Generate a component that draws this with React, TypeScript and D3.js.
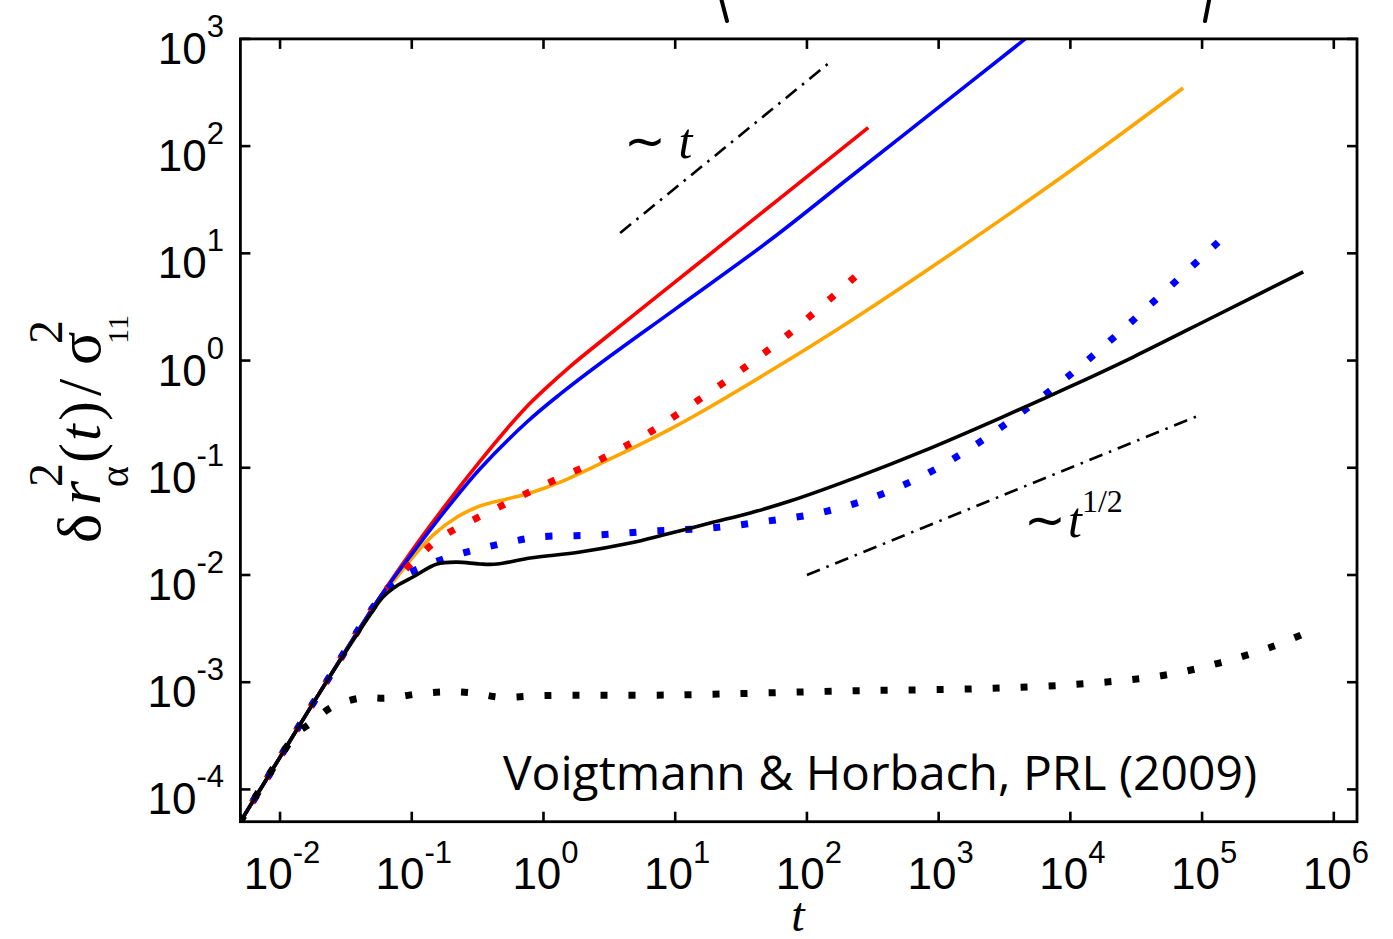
import React from "react";
import * as d3 from "d3";

// ---------- data (t, msd) ----------
const redSolidT = [0.005, 0.01, 0.02, 0.0574, 0.102, 0.185, 0.33, 0.557, 0.724, 1.0, 1.59, 2.69, 10, 23.1, 213, 292];
const redSolidY = [5e-5, 2e-4, 8e-4, 6.22e-3, 0.01738, 0.0466, 0.1153, 0.2495, 0.358, 0.527, 0.879, 1.49, 5.41, 12.3, 109, 149];

const blueSolidT = [0.005, 0.01, 0.02, 0.0574, 0.102, 0.185, 0.33, 0.752, 1.337, 2.69, 10, 52.6, 213, 1009, 4540];
const blueSolidY = [5e-5, 2e-4, 8e-4, 6.22e-3, 0.01618, 0.0418, 0.098, 0.2685, 0.486, 0.938, 3.02, 13.3, 51.5, 232, 1000];

const orangeT = [0.005, 0.01, 0.02, 0.0574, 0.077, 0.102, 0.145, 0.221, 0.33, 0.53, 0.79, 1.34, 2.38, 4.79, 9.16, 13.7, 52.6, 213, 1009, 9977, 71800];
const orangeY = [5e-5, 2e-4, 8e-4, 6.1e-3, 9.57e-3, 0.0147, 0.0235, 0.0347, 0.044, 0.0512, 0.0582, 0.0736, 0.1016, 0.153, 0.2296, 0.3006, 0.798, 2.33, 8.3, 58.6, 348];

const redDotT = [0.005, 0.01, 0.02, 0.0574, 0.0787, 0.1117, 0.164, 0.254, 0.4, 0.631, 0.975, 1.54, 2.47, 3.82, 5.92, 9.16, 26.1, 74.5, 232];
const redDotY = [5e-5, 2e-4, 8e-4, 6.15e-3, 9.57e-3, 0.01469, 0.0221, 0.0299, 0.0395, 0.0522, 0.0676, 0.0875, 0.113, 0.15, 0.2018, 0.2846, 0.687, 1.81, 6.03];

const blueDotT = [0.005, 0.01, 0.02, 0.0574, 0.0815, 0.1306, 0.213, 0.342, 0.557, 0.91, 2.55, 6.79, 18.4, 49.9, 133, 348, 861, 1995, 4385, 9462, 21100, 44100, 132400];
const blueDotY = [5e-5, 2e-4, 8e-4, 6.1e-3, 9.35e-3, 0.01236, 0.0153, 0.0178, 0.0203, 0.0226, 0.0236, 0.0257, 0.0274, 0.0318, 0.0386, 0.0551, 0.0912, 0.17, 0.337, 0.7, 1.62, 3.66, 12.7];

const blackSolidT = [0.005, 0.01, 0.02, 0.0482, 0.0605, 0.0787, 0.102, 0.1556, 0.221, 0.33, 0.445, 0.791, 1.897, 4.55, 8.09, 18.4, 37.1, 74.5, 240, 762, 2931, 9462, 29990, 130300, 586000];
const blackSolidY = [5e-5, 2e-4, 8e-4, 4.23e-3, 6.22e-3, 8.05e-3, 9.57e-3, 0.01265, 0.01318, 0.01265, 0.01265, 0.01439, 0.01637, 0.01986, 0.02355, 0.0305, 0.0379, 0.0489, 0.0818, 0.143, 0.291, 0.555, 1.079, 2.66, 6.7];

const blackDotT = [0.005, 0.01, 0.0135, 0.0163, 0.0248, 0.0405, 0.0649, 0.1096, 0.179, 0.292, 0.47, 1, 10, 200, 2000, 11070, 49000, 134900, 339000, 562000];
const blackDotY = [5e-5, 2e-4, 3.39e-4, 3.98e-4, 5.86e-4, 7.11e-4, 7.11e-4, 7.76e-4, 8.13e-4, 7.94e-4, 7.24e-4, 7.5e-4, 7.6e-4, 8.3e-4, 8.7e-4, 9.55e-4, 1.15e-3, 1.51e-3, 2.14e-3, 2.75e-3];

// power-law guide lines
const guideLinearT = [3.82, 145];
const guideLinearY = [15.5, 588];
const guideSqrtT = [100, 100000];
const guideSqrtY = [0.01, 0.316];

const xTickExps = [-2, -1, 0, 1, 2, 3, 4, 5, 6];
const yTickExps = [-4, -3, -2, -1, 0, 1, 2, 3];

const series = [
  { t: orangeT, y: orangeY, color: "#FFA500", dotted: false },
  { t: redSolidT, y: redSolidY, color: "#FF0000", dotted: false },
  { t: blueSolidT, y: blueSolidY, color: "#0000FF", dotted: false },
  { t: redDotT, y: redDotY, color: "#FF0000", dotted: true },
  { t: blueDotT, y: blueDotY, color: "#0000FF", dotted: true },
  { t: blackSolidT, y: blackSolidY, color: "#000000", dotted: false },
  { t: blackDotT, y: blackDotY, color: "#000000", dotted: true },
];

const L = 240.4, R = 1357, T = 38.9, B = 821.7;

export default function App() {
  const x = d3.scaleLog().domain([0.005, 1.5e6]).range([L, R]);
  const y = d3.scaleLog().domain([5e-5, 1000]).range([B, T]);
  const line = d3
    .line<[number, number]>()
    .x((d) => x(d[0]))
    .y((d) => y(d[1]))
    .curve(d3.curveCatmullRom.alpha(0.5));
  const straight = d3
    .line<[number, number]>()
    .x((d) => x(d[0]))
    .y((d) => y(d[1]));
  const pts = (ts: number[], ys: number[]) => ts.map((t, i) => [t, ys[i]] as [number, number]);

  const sans = "'Liberation Sans', Arial, Helvetica, sans-serif";
  const serif = "'Liberation Serif', 'Times New Roman', serif";

  return (
    <svg width={1393} height={939} style={{ display: "block", position: "absolute", left: 0, top: 0 }}>
      <rect width={1393} height={939} fill="#fff" />
      <defs>
        <clipPath id="plot">
          <rect x={L} y={T} width={R - L} height={B - T} />
        </clipPath>
      </defs>

      {/* decorative bracket ends at top */}
      <line x1={721} y1={-2} x2={727} y2={21} stroke="#000" strokeWidth={4} strokeLinecap="round" />
      <line x1={1209.5} y1={-2} x2={1205} y2={21} stroke="#000" strokeWidth={4} strokeLinecap="round" />

      <g clipPath="url(#plot)">
        {series.map((s, i) => {
          const p = pts(s.t, s.y);
          const d = line(s.dotted ? p.slice().reverse() : p) || "";
          return (
            <path
              key={i}
              d={d}
              fill="none"
              stroke={s.color}
              strokeWidth={s.dotted ? 7 : 3.6}
              strokeDasharray={s.dotted ? "7 21" : undefined}
              strokeLinecap="butt"
              strokeLinejoin="round"
            />
          );
        })}
        <path d={straight(pts(guideLinearT, guideLinearY)) || ""} fill="none" stroke="#000" strokeWidth={2.6} strokeDasharray="14 7 2.5 7" />
        <path d={straight(pts(guideSqrtT, guideSqrtY)) || ""} fill="none" stroke="#000" strokeWidth={2.6} strokeDasharray="14 7 2.5 7" />
      </g>

      {/* frame */}
      <rect x={L} y={T} width={R - L} height={B - T} fill="none" stroke="#000" strokeWidth={2.8} />

      {/* x ticks */}
      {xTickExps.map((e) => {
        const px = x(Math.pow(10, e));
        return (
          <g key={"xt" + e}>
            <line x1={px} x2={px} y1={B} y2={B - 10} stroke="#000" strokeWidth={2.6} />
            <line x1={px} x2={px} y1={T} y2={T + 10} stroke="#000" strokeWidth={2.6} />
            <text x={px + 2} y={889} textAnchor="middle" fontFamily={sans} fontSize={44} fill="#000">
              <tspan>10</tspan>
              <tspan fontSize={31} dy={-26}>{e < 0 ? "-" + Math.abs(e) : String(e)}</tspan>
            </text>
          </g>
        );
      })}

      {/* y ticks */}
      {yTickExps.map((e) => {
        const py = y(Math.pow(10, e));
        return (
          <g key={"yt" + e}>
            <line x1={L} x2={L + 10} y1={py} y2={py} stroke="#000" strokeWidth={2.6} />
            <line x1={R} x2={R - 10} y1={py} y2={py} stroke="#000" strokeWidth={2.6} />
            <text x={224} y={py + 25} textAnchor="end" fontFamily={sans} fontSize={44} fill="#000">
              <tspan>10</tspan>
              <tspan fontSize={31} dy={-27}>{e < 0 ? "-" + Math.abs(e) : String(e)}</tspan>
            </text>
          </g>
        );
      })}

      {/* x label */}
      <text x={798} y={931} textAnchor="middle" fontFamily={serif} fontStyle="italic" fontSize={48} fill="#000">t</text>

      {/* y label */}
      <g transform="translate(100,547) rotate(-90)" fontFamily={serif} fill="#000">
        <text x={4} y={0} fontSize={62}>δ</text>
        <text x={42} y={0} fontSize={62} fontStyle="italic">r</text>
        <text x={60} y={-38} fontSize={48}>2</text>
        <text x={60} y={28} fontSize={40}>α</text>
        <text x={84} y={0} fontSize={60}>(</text>
        <text x={106} y={0} fontSize={60} fontStyle="italic">t</text>
        <text x={126} y={0} fontSize={60}>)</text>
        <text x={151} y={0} fontSize={62}>/</text>
        <text x={182} y={0} fontSize={62}>σ</text>
        <text x={203} y={-38} fontSize={48}>2</text>
        <text x={203} y={28} fontSize={30}>11</text>
      </g>

      {/* guide labels */}
      <text x={624} y={158} fontFamily={serif} fontSize={50} fill="#000">
        ∼ <tspan fontStyle="italic">t</tspan>
      </text>
      <text x={1024} y={537} fontFamily={serif} fontSize={50} fill="#000">
        ∼
        <tspan x={1068} fontStyle="italic">t</tspan>
        <tspan fontSize={32} dy={-25}>1/2</tspan>
      </text>

      {/* citation */}
      <text x={503} y={790} fontFamily="'Open Sans', 'Noto Sans', sans-serif" fontSize={48} fill="#000">
        Voigtmann &amp; Horbach, PRL (2009)
      </text>
    </svg>
  );
}
